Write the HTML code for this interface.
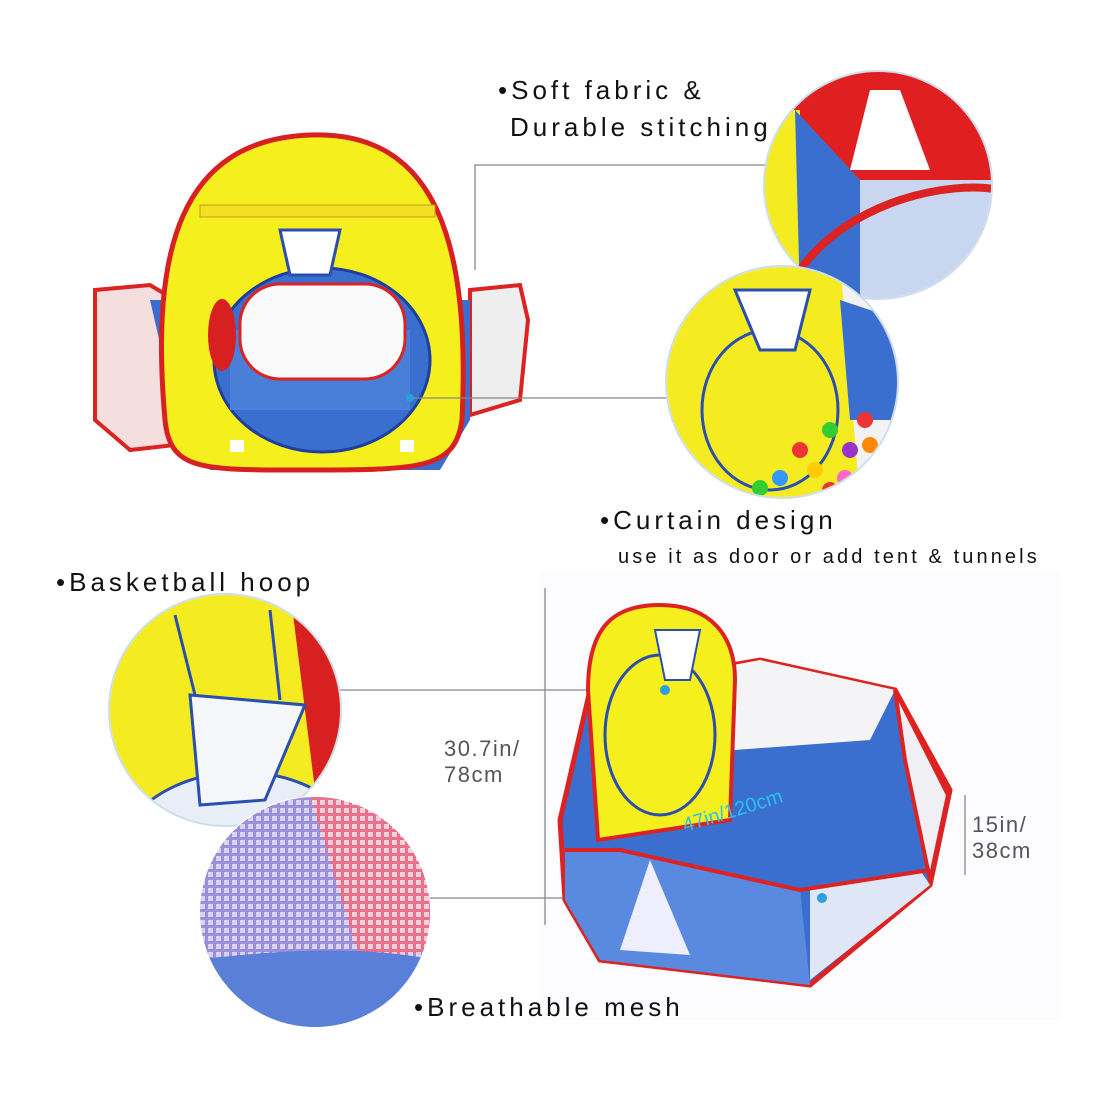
<!DOCTYPE html>
<html><head><meta charset="utf-8"><style>
html,body{margin:0;padding:0;background:#fff}
svg{display:block}
text{font-family:"Liberation Sans",sans-serif}
</style></head><body>
<svg width="1100" height="1100" viewBox="0 0 1100 1100" xmlns="http://www.w3.org/2000/svg">
<defs>
<pattern id="mesh" width="8" height="8" patternUnits="userSpaceOnUse"><rect width="8" height="8" fill="#9a8fd8"/><rect width="5" height="5" fill="#d9d2f0"/></pattern>
<pattern id="meshr" width="8" height="8" patternUnits="userSpaceOnUse"><rect width="8" height="8" fill="#e8708a"/><rect width="5" height="5" fill="#f7d0da"/></pattern>
<clipPath id="c1"><circle cx="878" cy="185" r="113"/></clipPath>
<clipPath id="c2"><circle cx="782" cy="382" r="115"/></clipPath>
<clipPath id="c3"><circle cx="225" cy="710" r="115"/></clipPath>
<clipPath id="c4"><circle cx="315" cy="912" r="115"/></clipPath>
</defs>
<rect width="1100" height="1100" fill="#fff"/>
<rect x="540" y="570" width="520" height="450" fill="#fcfbfd"/>

<!-- top-left tent -->
<path d="M95 290 L150 285 L175 300 L175 445 L130 450 L95 420 Z" fill="#f4dede" stroke="#d22" stroke-width="4"/>
<path d="M470 290 L520 285 L528 320 L520 400 L470 415 Z" fill="#eee" stroke="#d22" stroke-width="4"/>
<path d="M150 300 L180 430 L210 470 L440 470 L470 420 L470 300 Z" fill="#3a6fd0"/>
<path d="M165 420 C150 250 180 140 310 135 C440 130 470 250 462 420 C455 470 420 470 300 470 C200 470 170 470 165 420 Z" fill="#f6ef1e" stroke="#d82020" stroke-width="5"/>
<ellipse cx="322" cy="360" rx="108" ry="92" fill="#3a6fd0" stroke="#1e3f9e" stroke-width="3"/>
<path d="M230 330 L410 330 L410 410 L230 410 Z" fill="#4a7fd8"/>
<rect x="240" y="284" width="165" height="95" rx="40" fill="#fafafa" stroke="#d22" stroke-width="3"/>
<ellipse cx="222" cy="335" rx="14" ry="36" fill="#d82020"/>
<rect x="200" y="205" width="235" height="12" fill="#f4e020" stroke="#b8a020"/>
<path d="M280 230 L340 230 L330 275 L290 275 Z" fill="#fff" stroke="#2a4fb0" stroke-width="3"/>
<rect x="230" y="440" width="14" height="12" fill="#fff"/><rect x="400" y="440" width="14" height="12" fill="#fff"/>

<!-- connectors -->
<g stroke="#888" stroke-width="1.3" fill="none">
<path d="M475 270 L475 165 L765 165"/>
<path d="M410 398 L668 398"/>
<path d="M335 690 L665 690"/>
<path d="M430 898 L820 898"/>
<path d="M545 588 L545 925"/>
<path d="M965 795 L965 875"/>
</g>
<circle cx="410" cy="398" r="4" fill="#2aa0e0"/>

<!-- circle 1 -->
<circle cx="878" cy="185" r="114" fill="#fff" stroke="#cde" stroke-width="2"/>
<g clip-path="url(#c1)">
<rect x="760" y="70" width="240" height="240" fill="#c8d6f0"/>
<path d="M760 70 L1000 70 L1000 180 L860 180 L790 110 Z" fill="#e02020"/>
<path d="M870 90 L900 90 L930 170 L850 170 Z" fill="#fff"/>
<path d="M760 110 L800 110 L800 310 L760 310 Z" fill="#f4ec20"/>
<path d="M795 110 L860 180 L860 300 L800 300 Z" fill="#3a6fd0"/>
<path d="M800 270 C850 200 950 180 1000 190" stroke="#d22" stroke-width="8" fill="none"/>
</g>
<!-- circle 2 -->
<circle cx="782" cy="382" r="116" fill="#fff" stroke="#cde" stroke-width="2"/>
<g clip-path="url(#c2)">
<rect x="660" y="260" width="250" height="250" fill="#f2f2f2"/>
<path d="M660 260 L840 260 L860 500 L660 500 Z" fill="#f4ec20"/>
<ellipse cx="770" cy="410" rx="68" ry="80" fill="none" stroke="#2a4fb0" stroke-width="3"/>
<path d="M840 300 L900 320 L900 420 L850 420 Z" fill="#3a6fd0"/>
<path d="M735 290 L810 290 L795 350 L760 350 Z" fill="#fff" stroke="#2a4fb0" stroke-width="3"/>
<g fill="#e33"><circle cx="800" cy="450" r="8"/><circle cx="830" cy="430" r="8" fill="#3c3"/><circle cx="850" cy="450" r="8" fill="#93c"/><circle cx="815" cy="470" r="8" fill="#fc0"/><circle cx="865" cy="420" r="8"/><circle cx="780" cy="478" r="8" fill="#39f"/><circle cx="845" cy="478" r="8" fill="#f6c"/><circle cx="870" cy="445" r="8" fill="#f80"/><circle cx="760" cy="488" r="8" fill="#3c3"/><circle cx="830" cy="490" r="8" fill="#e33"/></g>
</g>
<!-- circle 3 -->
<circle cx="225" cy="710" r="116" fill="#fff" stroke="#cde" stroke-width="2"/>
<g clip-path="url(#c3)">
<rect x="105" y="590" width="240" height="240" fill="#f4ec20"/>
<path d="M290 590 L345 590 L345 830 L320 830 Z" fill="#d82020"/>
<path d="M130 820 C180 760 280 760 330 800 L330 830 L130 830 Z" fill="#e8eef8" stroke="#2a4fb0" stroke-width="3"/>
<path d="M190 695 L305 705 L265 800 L200 805 Z" fill="#f4f6fa" stroke="#2a4fb0" stroke-width="3"/>
<path d="M175 615 L195 695 M270 610 L280 700" stroke="#2a4fb0" stroke-width="3"/>
</g>
<!-- circle 4 -->
<circle cx="315" cy="912" r="116" fill="#fff"/>
<g clip-path="url(#c4)">
<rect x="195" y="795" width="240" height="240" fill="url(#mesh)"/>
<path d="M310 795 L435 795 L435 950 L360 960 Z" fill="url(#meshr)"/>
<path d="M195 960 C280 950 360 945 435 960 L435 1030 L195 1030 Z" fill="#5a7fd8"/>
</g>

<!-- bottom-right pen -->
<path d="M560 820 L590 690 L760 660 L895 690 L950 790 L930 885 L810 985 L600 960 L565 900 Z" fill="#3a6fd0" stroke="#d22" stroke-width="5"/>
<path d="M600 690 L760 660 L895 690 L870 740 L600 760 Z" fill="#f4f4f6"/>
<path d="M565 850 L620 850 L800 890 L810 985 L600 960 L565 900 Z" fill="#5a8ae0"/>
<path d="M650 860 L690 955 L620 950 Z" fill="#eef"/>
<path d="M810 890 L920 870 L930 885 L810 980 Z" fill="#dfe6f6"/>
<path d="M895 690 L948 795 L930 880 L905 760 Z" fill="#f0f0f4" stroke="#d22" stroke-width="4"/>
<path d="M565 850 L620 850 L800 890 L930 870" stroke="#d22" stroke-width="4" fill="none"/>
<path d="M588 690 C588 625 615 605 660 605 C710 605 735 635 735 680 L730 820 L598 840 Z" fill="#f6ef1e" stroke="#d22" stroke-width="4"/>
<ellipse cx="660" cy="735" rx="55" ry="80" fill="none" stroke="#2a4fb0" stroke-width="3"/>
<path d="M655 630 L700 630 L690 680 L665 680 Z" fill="#fff" stroke="#2a4fb0" stroke-width="2"/>
<text x="685" y="832" fill="#2ac0f0" font-size="20" transform="rotate(-17 685 832)">47in/120cm</text>
<circle cx="665" cy="690" r="5" fill="#2aa0e0"/>
<circle cx="822" cy="898" r="5" fill="#2aa0e0"/>

<!-- labels -->
<g fill="#111" font-size="26" letter-spacing="4">
<text x="498" y="99">•Soft fabric &amp;</text>
<text x="510" y="136">Durable stitching</text>
<text x="600" y="529">•Curtain design</text>
<text x="56" y="591">•Basketball hoop</text>
<text x="414" y="1016">•Breathable mesh</text>
</g>
<text x="618" y="563" fill="#111" font-size="20" letter-spacing="3.1">use it as door or add tent &amp; tunnels</text>
<g fill="#555" font-size="22" letter-spacing="1.5">
<text x="444" y="756">30.7in/</text><text x="444" y="782">78cm</text>
<text x="972" y="832">15in/</text><text x="972" y="858">38cm</text>
</g>
</svg>
</body></html>
